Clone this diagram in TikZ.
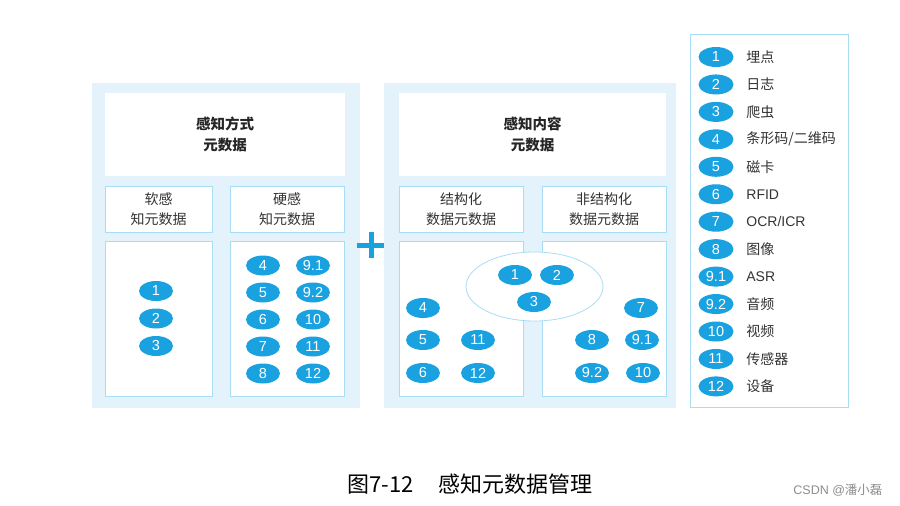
\documentclass[tikz,border=0pt]{standalone}
\usepackage{fontspec}
\setmainfont{Liberation Sans}
\newfontfamily\cjk{Noto Sans CJK SC}
\usepackage{tikz}
\usetikzlibrary{positioning,shapes.geometric}
\definecolor{panelbg}{HTML}{E4F3FB}
\definecolor{boxline}{HTML}{A9DDF3}
\definecolor{tagblue}{HTML}{1AA1E0}
\tikzset{
  panel/.style={
    rectangle,
    fill=panelbg,
    inner sep=0pt},
  headbox/.style={
    rectangle,
    fill=white,
    inner sep=0pt,
    align=center,
    text=black!85,
    font=\cjk\bfseries\fontsize{14.5}{20.5}\selectfont},
  subbox/.style={
    rectangle,
    fill=white,
    draw=boxline, line width=0.8pt,
    inner sep=0pt,
    align=center,
    text=black!80,
    font=\cjk\fontsize{14}{20.5}\selectfont},
  tag/.style={
    ellipse,
    fill=tagblue,
    text=white,
    minimum width=34pt,
    minimum height=20pt,
    inner sep=0pt,
    font=\fontsize{14.5}{14.5}\selectfont},
  legtext/.style={inner sep=0pt, text=black!80, font=\cjk\fontsize{14}{14}\selectfont},
  plusbar/.style={draw=tagblue, line width=5pt},
}

\begin{document}
\begin{tikzpicture}[x=1pt,y=-1pt]
  \useasboundingbox (0,0) rectangle (900,506);
  % left: sensing mode
  \node[panel, minimum width=268pt, minimum height=325pt] (pmode) at (226,245.5) {};
  \node[headbox, minimum width=240pt, minimum height=83pt] (mode) at (225,134.5) {感知方式\\元数据};
  \node[subbox, minimum width=107pt, minimum height=46pt] (soft) at (158.5,209) {软感\\知元数据};
  \node[subbox, minimum width=114pt, minimum height=46pt] (hard) at (287,209) {硬感\\知元数据};
  \node[subbox, minimum width=107pt, minimum height=155pt] (softbox) at (158.5,318.5) {};
  \node[subbox, minimum width=114pt, minimum height=155pt] (hardbox) at (287,318.5) {};
  \foreach \n [count=\i from 0] in {1,2,3}
    \node[tag] (s\n) at (156,291+27.5*\i) {\n};
  \foreach \a/\b/\c [count=\i from 0] in {4/9.1/91,5/9.2/92,6/10/10,7/11/11,8/12/12} {
    \node[tag] (h\a) at (263,265.5+27*\i) {\a};
    \node[tag] (h\c) at (313,265.5+27*\i) {\b};
  }

  % plus
  \coordinate (plus) at (371,245);
  \draw[plusbar] ([xshift=-14.5pt]plus) -- ([xshift=14.5pt]plus);
  \draw[plusbar] ([yshift=-13pt]plus) -- ([yshift=13pt]plus);

  % middle: sensing content
  \node[panel, minimum width=292pt, minimum height=325pt] (pcont) at (530,245.5) {};
  \node[headbox, minimum width=267pt, minimum height=83pt] (cont) at (532.5,134.5) {感知内容\\元数据};
  \node[subbox, minimum width=124pt, minimum height=46pt] (struct) at (461,209) {结构化\\数据元数据};
  \node[subbox, minimum width=124pt, minimum height=46pt] (unstruct) at (604,209) {非结构化\\数据元数据};
  \node[subbox, minimum width=124pt, minimum height=155pt] (structbox) at (461,318.5) {};
  \node[subbox, minimum width=124pt, minimum height=155pt] (unstructbox) at (604,318.5) {};
  \node[ellipse, fill=white, draw=boxline, line width=0.8pt, minimum width=137pt, minimum height=69pt] (shared) at (534.5,286.5) {};
  \node[tag] (c1) at (515,275) {1};
  \node[tag] (c2) at (557,275) {2};
  \node[tag] (c3) at (534,302) {3};
  \node[tag] (c4) at (423,308) {4};
  \node[tag] (c5) at (423,340) {5};
  \node[tag] (c6) at (423,373) {6};
  \node[tag] (c11) at (478,340) {11};
  \node[tag] (c12) at (478,373) {12};
  \node[tag] (c7) at (641,308) {7};
  \node[tag] (c8) at (592,340) {8};
  \node[tag] (c91) at (642,340) {9.1};
  \node[tag] (c92) at (592,373) {9.2};
  \node[tag] (c10) at (643,373) {10};

  % legend
  \node[subbox, minimum width=158pt, minimum height=373pt] (legend) at (769,220.5) {};
  \foreach \n/\t [count=\i from 0] in {1/埋点,2/日志,3/爬虫,4/{条形码/二维码},5/磁卡,6/{\rmfamily RFID},
      7/{\rmfamily OCR/ICR},8/图像,9.1/{\rmfamily ASR},9.2/音频,10/视频,11/传感器,12/设备} {
    \node[tag, minimum width=35pt] (l\i) at (716,57+27.45*\i) {\n};
    \node[legtext, right=12.5pt of l\i] (lt\i) {\t};
  }

  % caption
  \node[font=\cjk\fontsize{22}{22}\selectfont] (caption) at (470,484) {图7-12\hspace{25pt}感知元数据管理};
  \node[anchor=east, text=black!45, font=\fontsize{12.5}{12.5}\selectfont] (mark) at (886,490) {CSDN @{\cjk 潘小磊}};
\end{tikzpicture}
\end{document}
